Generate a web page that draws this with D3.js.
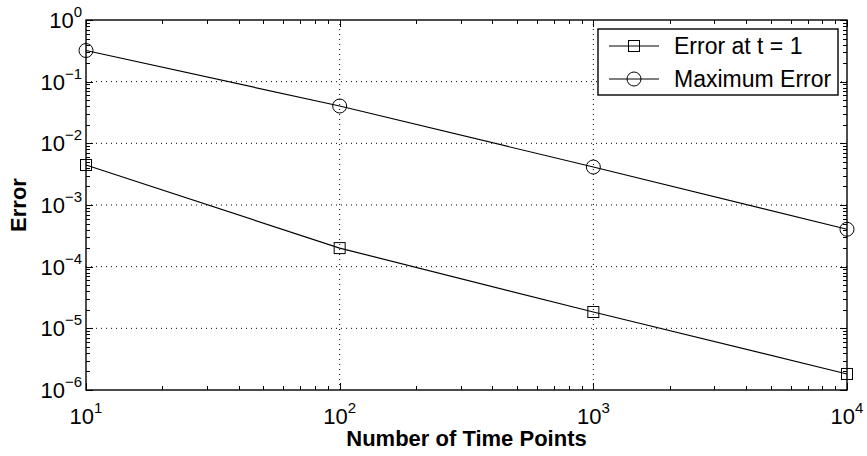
<!DOCTYPE html>
<html lang="en">
<head>
  <meta charset="UTF-8">
  <title>Error vs Time Points</title>
  <script src="https://cdn.jsdelivr.net/npm/d3@7.8.5/dist/d3.min.js"></script>
  <style>
    body { margin: 0; background: #fff; }
    svg { display: block; font-family: "Liberation Sans", Arial, Helvetica, sans-serif; }
  </style>
</head>
<body>
  <div id="chart"></div>
  <script>
    const width = 867
    const height = 456
    const margin = { left: 86, right: 20, top: 20, bottom: 66 }

    // data
    const timePoints = [10, 100, 1000, 10000]
    const errorAtT1 = [4.45e-3, 2.0e-4, 1.84e-5, 1.82e-6]
    const maxError = [0.32, 0.0403, 4.13e-3, 4.04e-4]
    const xTickExps = [1, 2, 3, 4]
    const yTickExps = [0, -1, -2, -3, -4, -5, -6]
    const seriesNames = ['Error at t = 1', 'Maximum Error']

    const svg = d3.select('#chart').append('svg')
      .attr('width', width)
      .attr('height', height)

    const x = d3.scaleLog().domain([10, 10000]).range([margin.left, width - margin.right])
    const y = d3.scaleLog().domain([1e-6, 1]).range([height - margin.bottom, margin.top])

    const x0 = margin.left, x1 = width - margin.right
    const y0 = height - margin.bottom, y1 = margin.top

    // dotted grid at major ticks
    const grid = svg.append('g')
      .attr('stroke', '#000')
      .attr('stroke-width', 1)
      .attr('stroke-dasharray', '1,4')
    grid.selectAll('.gx').data(xTickExps.slice(1, -1))
      .enter().append('line')
      .attr('x1', d => x(10 ** d)).attr('x2', d => x(10 ** d))
      .attr('y1', y0).attr('y2', y1)
    grid.selectAll('.gy').data(yTickExps.slice(1, -1))
      .enter().append('line')
      .attr('y1', d => y(10 ** d)).attr('y2', d => y(10 ** d))
      .attr('x1', x0).attr('x2', x1)

    // ticks (inward, on all four sides)
    const xMinor = [], yMinor = []
    for (let e = 1; e < 4; e++) for (let m = 2; m < 10; m++) xMinor.push(m * 10 ** e)
    for (let e = -6; e < 0; e++) for (let m = 2; m < 10; m++) yMinor.push(m * 10 ** e)
    const ticks = svg.append('g').attr('stroke', '#000').attr('stroke-width', 1)
    const majL = 7, minL = 4
    xTickExps.forEach(e => {
      const px = Math.round(x(10 ** e)) + 0.5
      ticks.append('line').attr('x1', px).attr('x2', px).attr('y1', y0).attr('y2', y0 - majL)
      ticks.append('line').attr('x1', px).attr('x2', px).attr('y1', y1).attr('y2', y1 + majL)
    })
    xMinor.forEach(v => {
      const px = Math.round(x(v)) + 0.5
      ticks.append('line').attr('x1', px).attr('x2', px).attr('y1', y0).attr('y2', y0 - minL)
      ticks.append('line').attr('x1', px).attr('x2', px).attr('y1', y1).attr('y2', y1 + minL)
    })
    yTickExps.forEach(e => {
      const py = Math.round(y(10 ** e)) + 0.5
      ticks.append('line').attr('y1', py).attr('y2', py).attr('x1', x0).attr('x2', x0 + majL)
      ticks.append('line').attr('y1', py).attr('y2', py).attr('x1', x1).attr('x2', x1 - majL)
    })
    yMinor.forEach(v => {
      const py = Math.round(y(v)) + 0.5
      ticks.append('line').attr('y1', py).attr('y2', py).attr('x1', x0).attr('x2', x0 + minL)
      ticks.append('line').attr('y1', py).attr('y2', py).attr('x1', x1).attr('x2', x1 - minL)
    })

    // axes box
    svg.append('rect')
      .attr('x', x0).attr('y', y1)
      .attr('width', x1 - x0).attr('height', y0 - y1)
      .attr('fill', 'none').attr('stroke', '#000').attr('stroke-width', 1.4)

    // tick labels
    const xl = svg.append('g').attr('font-size', 22).attr('fill', '#000')
    xTickExps.forEach(e => {
      const t = xl.append('text')
        .attr('x', x(10 ** e)).attr('y', y0 + 34)
        .attr('text-anchor', 'middle')
      t.append('tspan').text('10')
      t.append('tspan').attr('dy', -11).attr('font-size', 15).text(e)
    })
    const yl = svg.append('g').attr('font-size', 22).attr('fill', '#000')
    yTickExps.forEach(e => {
      const t = yl.append('text')
        .attr('x', x0 - 4).attr('y', y(10 ** e) + 8)
        .attr('text-anchor', 'end')
      t.append('tspan').text('10')
      t.append('tspan').attr('dy', -11).attr('font-size', 15).text(e === 0 ? '0' : '\u2212' + (-e))
    })

    // axis labels
    svg.append('text')
      .attr('x', (x0 + x1) / 2).attr('y', 446)
      .attr('text-anchor', 'middle')
      .attr('font-size', 22).attr('font-weight', 'bold')
      .text('Number of Time Points')
    svg.append('text')
      .attr('transform', `translate(26, ${(y0 + y1) / 2}) rotate(-90)`)
      .attr('text-anchor', 'middle')
      .attr('font-size', 22).attr('font-weight', 'bold')
      .text('Error')

    // series
    const line = d3.line().x(d => x(d[0])).y(d => y(d[1]))
    const s1 = timePoints.map((t, i) => [t, errorAtT1[i]])
    const s2 = timePoints.map((t, i) => [t, maxError[i]])

    svg.append('path').datum(s1).attr('d', line)
      .attr('fill', 'none').attr('stroke', '#000').attr('stroke-width', 1.2)
    svg.append('path').datum(s2).attr('d', line)
      .attr('fill', 'none').attr('stroke', '#000').attr('stroke-width', 1.2)

    const sq = 11
    svg.selectAll('.sq').data(s1)
      .enter().append('rect')
      .attr('x', d => x(d[0]) - sq / 2).attr('y', d => y(d[1]) - sq / 2)
      .attr('width', sq).attr('height', sq)
      .attr('fill', 'none').attr('stroke', '#000').attr('stroke-width', 1)
    svg.selectAll('.ci').data(s2)
      .enter().append('circle')
      .attr('cx', d => x(d[0])).attr('cy', d => y(d[1]))
      .attr('r', 7)
      .attr('fill', 'none').attr('stroke', '#000').attr('stroke-width', 1)

    // legend
    const lg = svg.append('g')
    lg.append('rect')
      .attr('x', 598).attr('y', 29).attr('width', 240).attr('height', 66)
      .attr('fill', '#fff').attr('stroke', '#000').attr('stroke-width', 1.4)
    seriesNames.forEach((name, i) => {
      const ly = 46 + i * 33
      lg.append('line').attr('x1', 609).attr('x2', 659).attr('y1', ly).attr('y2', ly)
        .attr('stroke', '#000')
      if (i === 0) {
        lg.append('rect').attr('x', 634 - sq / 2).attr('y', ly - sq / 2)
          .attr('width', sq).attr('height', sq).attr('fill', 'none').attr('stroke', '#000')
      } else {
        lg.append('circle').attr('cx', 634).attr('cy', ly).attr('r', 7)
          .attr('fill', 'none').attr('stroke', '#000')
      }
      lg.append('text').attr('x', 674).attr('y', ly + 8)
        .attr('font-size', 23).text(name)
    })
  </script>
</body>
</html>
